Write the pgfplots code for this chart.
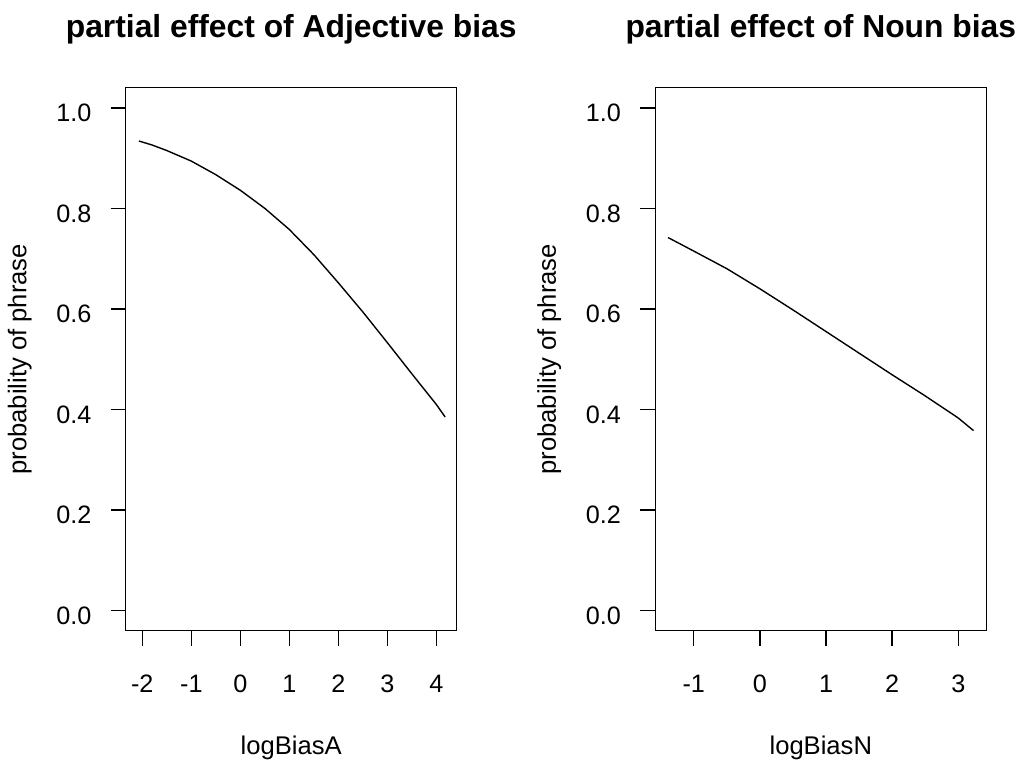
\documentclass[border=0pt]{standalone}
\usepackage{fontspec}
\setmainfont{Liberation Sans}
\usepackage{pgfplots}
\pgfplotsset{compat=1.18}
\begin{document}
\begin{tikzpicture}
\useasboundingbox (0,0) rectangle (509.5bp,380.5bp);
\pgfplotsset{rstyle/.style={
  scale only axis, width=165.5bp, height=271.5bp,
  ymin=-0.04, ymax=1.04,
  tick pos=left, tick align=outside, major tick length=7.5bp,
  ytick={0,0.2,0.4,0.6,0.8,1}, yticklabels={0.0,0.2,0.4,0.6,0.8,1.0},
  tick style={black, line width=0.7pt},
  axis line style={line width=0.7pt},
  ticklabel style={font=\fontsize{12.6bp}{15bp}\selectfont},
  xticklabel style={anchor=base, inner sep=0pt, yshift=-23.5bp},
  yticklabel style={anchor=east, inner sep=0pt, xshift=-9.5bp, yshift=-2.5bp},
  label style={font=\fontsize{12.8bp}{15bp}\selectfont},
  title style={font=\fontsize{15.9bp}{18bp}\selectfont\bfseries, at={(axis description cs:0.5,1.0713)}, anchor=base},
  xlabel style={at={(axis description cs:0.5,-0.2289)}, anchor=base},
  ylabel style={at={(axis description cs:-0.3003,0.5)}, anchor=base},
  ylabel={probability of phrase},
}}
\begin{axis}[rstyle, at={(62.85bp,65.15bp)}, anchor=south west,
  xmin=-2.339, xmax=4.416,
  xtick={-2,-1,0,1,2,3,4}, xticklabels={-2,-1,0,1,2,3,4},
  title={partial effect of Adjective bias}, xlabel={logBiasA}]
\addplot[black, line width=0.7pt] coordinates {
(-2.07,0.934) (-1.8,0.926) (-1.5,0.915) (-1.0,0.894) (-0.5,0.867) (0,0.836)
(0.5,0.800) (1.0,0.758) (1.5,0.708) (2.0,0.652) (2.5,0.594) (3.0,0.533)
(3.5,0.471) (4.0,0.410) (4.18,0.385)};
\end{axis}
\begin{axis}[rstyle, at={(327.65bp,65.15bp)}, anchor=south west,
  xmin=-1.582, xmax=3.424,
  xtick={-1,0,1,2,3}, xticklabels={-1,0,1,2,3},
  title={partial effect of Noun bias}, xlabel={logBiasN}]
\addplot[black, line width=0.7pt] coordinates {
(-1.39,0.742) (-1.0,0.715) (-0.5,0.680) (0,0.640) (0.5,0.598) (1.0,0.555)
(1.5,0.512) (2.0,0.469) (2.5,0.427) (3.0,0.383) (3.23,0.358)};
\end{axis}
\end{tikzpicture}
\end{document}
